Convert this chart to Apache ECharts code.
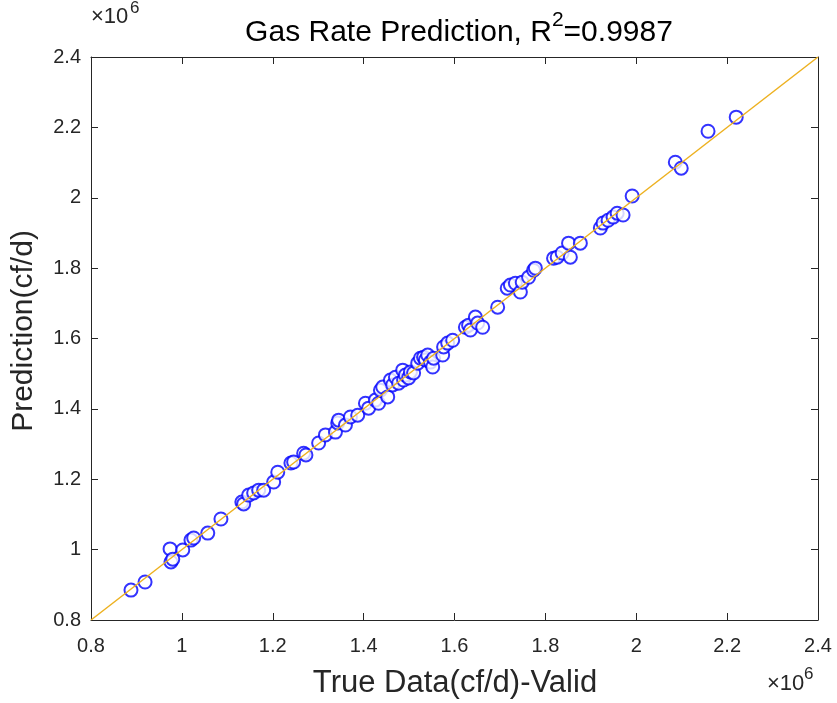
<!DOCTYPE html>
<html><head><meta charset="utf-8">
<script src="https://cdn.jsdelivr.net/npm/echarts@6/dist/echarts.min.js"></script>
<style>html,body{margin:0;padding:0;background:#fff}#c{width:837px;height:703px}</style>
</head><body><div id="c"></div>
<script>
// True data (cf/d) and predictions (cf/d)
const trueData = [888000,919000,974000,976000,980000,1002000,1020000,1026000,1057000,1086000,1132000,1136000,1147000,1158000,1169000,1180000,1202000,1211000,1240000,1246000,1268000,1273000,1301000,1316000,1338000,1343000,1345000,1360000,1371000,1387000,1404000,1411000,1426000,1433000,1437000,1442000,1453000,1459000,1464000,1470000,1477000,1486000,1488000,1492000,1499000,1503000,1510000,1519000,1525000,1532000,1536000,1541000,1547000,1552000,1554000,1574000,1576000,1585000,1596000,1624000,1631000,1635000,1646000,1651000,1662000,1695000,1716000,1723000,1734000,1745000,1749000,1763000,1774000,1778000,1818000,1826000,1837000,1851000,1855000,1877000,1921000,1927000,1938000,1949000,1958000,1971000,1991000,2086000,2099000,2158000,2220000];
const predData = [885000,908000,1002000,965000,973000,999000,1027000,1033000,1047000,1087000,1135000,1130000,1155000,1161000,1169000,1169000,1192000,1220000,1246000,1249000,1274000,1269000,1303000,1326000,1334000,1360000,1368000,1354000,1377000,1382000,1416000,1402000,1425000,1416000,1453000,1462000,1434000,1482000,1468000,1490000,1473000,1510000,1482000,1496000,1488000,1505000,1502000,1530000,1544000,1547000,1539000,1553000,1533000,1519000,1544000,1553000,1576000,1587000,1595000,1632000,1638000,1624000,1661000,1644000,1632000,1689000,1743000,1752000,1757000,1732000,1760000,1774000,1794000,1800000,1828000,1831000,1843000,1871000,1831000,1871000,1914000,1928000,1936000,1945000,1956000,1951000,2005000,2101000,2084000,2189000,2229000];
const axisMin = 800000, axisMax = 2400000, axisStep = 200000;
const titleMain = 'Gas Rate Prediction, R';
const titleSup = '2';
const titleEnd = '=0.9987';
const xName = 'True Data(cf/d)-Valid';
const yName = 'Prediction(cf/d)';
const expBase = '×10', expPow = '6';

const points = trueData.map((v, i) => [v, predData[i]]);
const fmt = v => String(+(v / 1e6).toFixed(1));
const font = '"Liberation Sans", Arial, Helvetica, sans-serif';
const axColor = '#262626';

const baseAxis = (pos, show) => ({
  type: 'value', position: pos, min: axisMin, max: axisMax, interval: axisStep,
  axisLine: { show: true, onZero: false, lineStyle: { color: axColor, width: 1 } },
  axisTick: { show: true, inside: true, length: 7, lineStyle: { color: axColor } },
  axisLabel: { show: show, formatter: fmt, color: axColor, fontSize: 20, fontFamily: font, margin: pos === 'bottom' ? 16 : 10 },
  splitLine: { show: false }
});

const txt = (x, y, text, size) => ({ type: 'text', x: x, y: y,
  style: { text: text, fill: axColor, fontSize: size, fontFamily: font, textAlign: 'left', textVerticalAlign: 'middle' } });

const chart = echarts.init(document.getElementById('c'), null, { renderer: 'canvas' });
chart.setOption({
  backgroundColor: '#fff',
  animation: false,
  grid: { left: 91, top: 57, width: 727, height: 563, containLabel: false },
  xAxis: [baseAxis('bottom', true), baseAxis('top', false)],
  yAxis: [baseAxis('left', true), baseAxis('right', false)],
  title: {
    text: '{m|' + titleMain + '}{s|' + titleSup + '}{m|' + titleEnd + '}',
    left: 454, textAlign: 'center', top: 5,
    textStyle: { fontSize: 30, fontWeight: 'normal', color: '#000', fontFamily: font,
      rich: {
        m: { fontSize: 30, lineHeight: 38, verticalAlign: 'bottom', color: '#000', fontFamily: font },
        s: { fontSize: 21, verticalAlign: 'top', color: '#000', fontFamily: font }
      } }
  },
  graphic: [
    txt(91, 17, expBase, 22),
    txt(130, 8, expPow, 17),
    txt(767, 684, expBase, 22),
    txt(804, 674, expPow, 17),
    { type: 'text', x: 455, y: 683, style: { text: xName, fill: axColor, fontSize: 31, fontFamily: font, textAlign: 'center', textVerticalAlign: 'middle' } },
    { type: 'text', x: 24, y: 331, rotation: Math.PI / 2, style: { text: yName, fill: axColor, fontSize: 30, fontFamily: font, textAlign: 'center', textVerticalAlign: 'middle' } }
  ],
  series: [
    { type: 'scatter', data: points, symbol: 'emptyCircle', symbolSize: 13, z: 2,
      itemStyle: { color: '#0000ff', borderColor: '#0000ff', borderWidth: 1.2 } },
    { type: 'line', data: [[axisMin, axisMin], [axisMax, axisMax]], showSymbol: false, symbol: 'none', z: 3,
      lineStyle: { color: '#EDB120', width: 1.5 } }
  ]
});
</script></body></html>
